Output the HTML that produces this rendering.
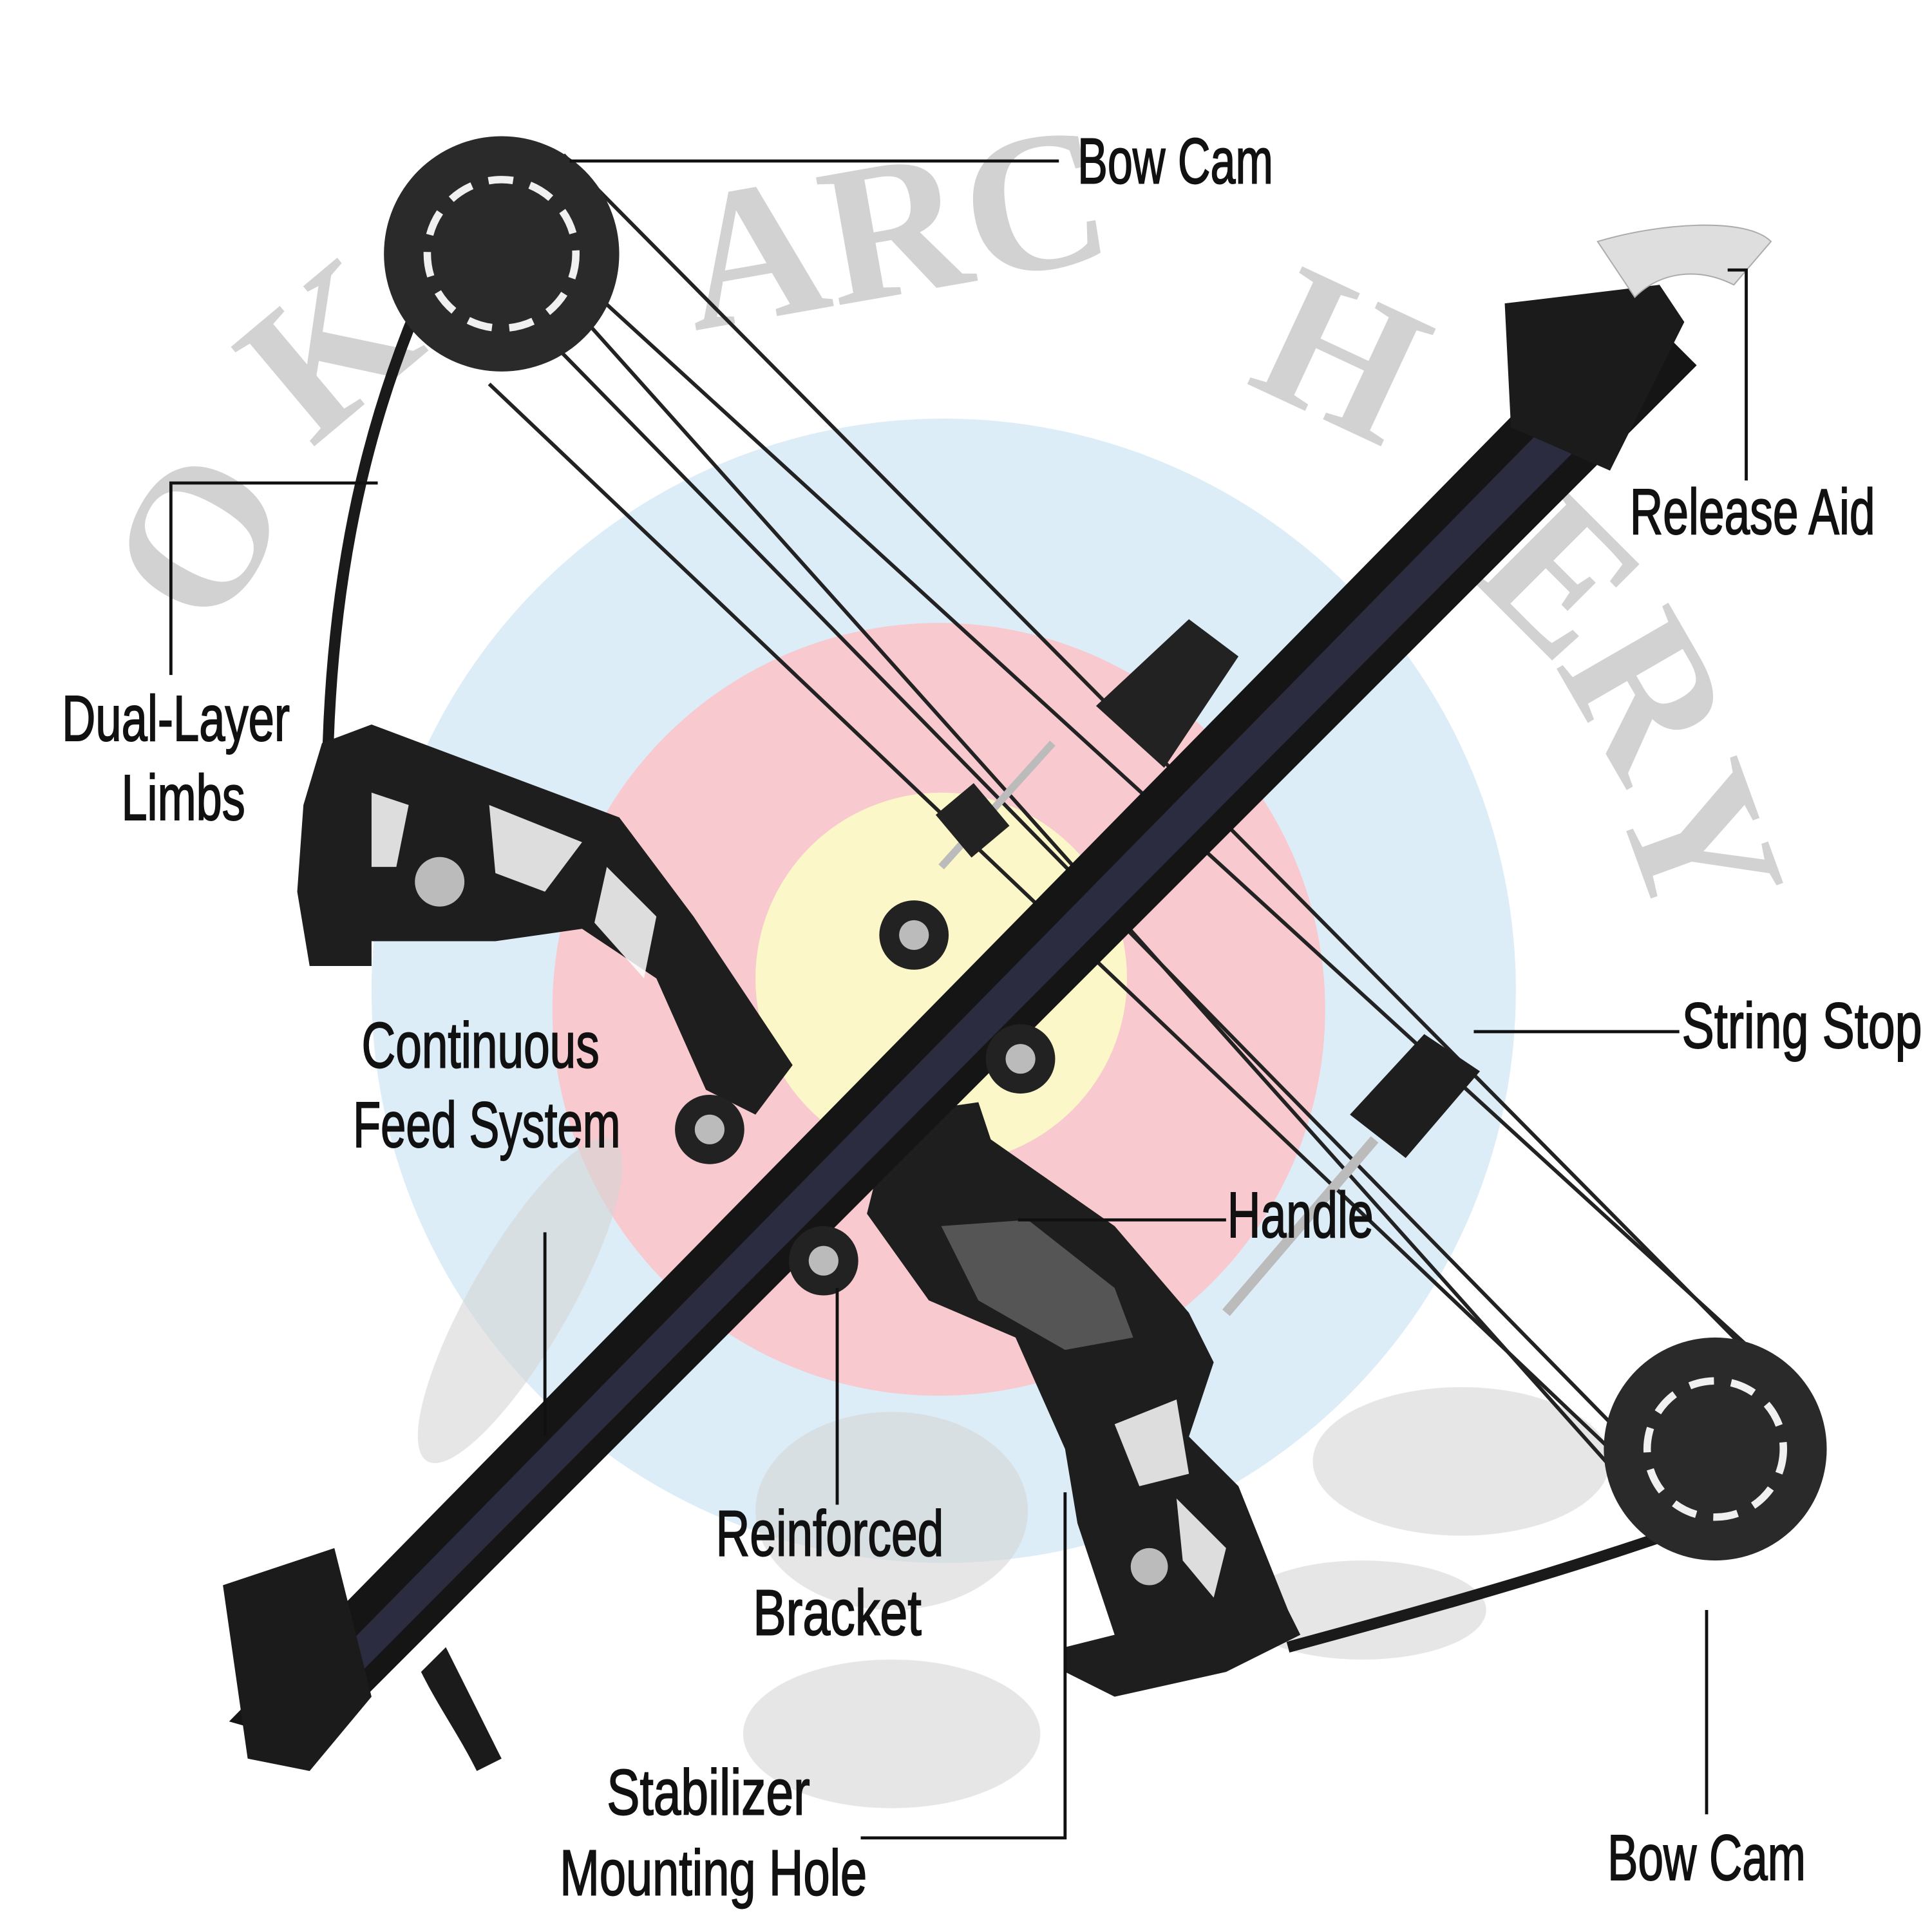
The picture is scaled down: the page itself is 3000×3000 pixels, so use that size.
<!DOCTYPE html>
<html><head><meta charset="utf-8"><style>
html,body{margin:0;padding:0;background:#fff;width:3000px;height:3000px;overflow:hidden}
svg{display:block}
text{font-family:"Liberation Sans Narrow","Liberation Sans",sans-serif;fill:#111}
</style></head><body>
<svg width="3000" height="3000" viewBox="0 0 1560 1560" xmlns="http://www.w3.org/2000/svg">
<rect width="1560" height="1560" fill="#fff"/>
<circle cx="762" cy="800" r="462" fill="#dcedf8"/>
<circle cx="758" cy="815" r="312" fill="#f8c9cf"/>
<circle cx="760" cy="790" r="150" fill="#fbf7c8"/>
<g font-weight="bold" font-size="160">
<text x="150" y="470" transform="rotate(-60 200 470)" style="fill:#d2d2d2;font-family:'Liberation Serif',serif">O</text>
<text x="240" y="330" transform="rotate(-40 290 330)" style="fill:#d2d2d2;font-family:'Liberation Serif',serif">K</text>
<text x="560" y="260" transform="rotate(-10 600 260)" style="fill:#d2d2d2;font-family:'Liberation Serif',serif">ARC</text>
<text x="1000" y="330" transform="rotate(25 1050 330)" style="fill:#d2d2d2;font-family:'Liberation Serif',serif">H</text>
<text x="1170" y="500" transform="rotate(45 1220 500)" style="fill:#d2d2d2;font-family:'Liberation Serif',serif">E</text>
<text x="1230" y="580" transform="rotate(60 1280 580)" style="fill:#d2d2d2;font-family:'Liberation Serif',serif">R</text>
<text x="1270" y="690" transform="rotate(70 1320 690)" style="fill:#d2d2d2;font-family:'Liberation Serif',serif">Y</text>
</g>
<g fill="#d6d6d6" opacity="0.6">
<ellipse cx="420" cy="1050" rx="150" ry="40" transform="rotate(-60 420 1050)"/>
<ellipse cx="1180" cy="1180" rx="120" ry="60"/>
<ellipse cx="720" cy="1220" rx="110" ry="80"/>
<ellipse cx="720" cy="1400" rx="120" ry="60"/>
<ellipse cx="1100" cy="1300" rx="100" ry="40"/>
</g>
<g stroke="#222" stroke-width="3" fill="none">
<line x1="385" y1="150" x2="1420" y2="1095"/>
<line x1="455" y1="125" x2="1415" y2="1095"/>
<line x1="420" y1="200" x2="1310" y2="1195"/>
<line x1="395" y1="310" x2="1300" y2="1170"/>
<line x1="400" y1="230" x2="1370" y2="1220"/>
</g>
<path d="M385 150 C300 300 270 450 265 600" stroke="#1a1a1a" stroke-width="9" fill="none"/>
<path d="M1440 1205 C1300 1260 1150 1300 1040 1330" stroke="#1a1a1a" stroke-width="9" fill="none"/>
<circle cx="405" cy="205" r="95" fill="#2a2a2a"/>
<circle cx="405" cy="205" r="60" fill="none" stroke="#f0f0f0" stroke-width="6" stroke-dasharray="20 14"/>
<circle cx="1385" cy="1170" r="90" fill="#2a2a2a"/>
<circle cx="1385" cy="1170" r="55" fill="none" stroke="#f0f0f0" stroke-width="6" stroke-dasharray="20 14"/>
<path d="M260 600 L300 585 L340 600 L500 660 L560 740 L600 800 L640 860 L610 900 L570 880 L530 790 L470 750 L400 760 L320 760 L300 760 L300 780 L250 780 L240 720 L245 650 Z" fill="#1e1e1e"/>
<g fill="#fff" opacity="0.85">
<polygon points="395,650 470,680 440,720 400,705"/>
<polygon points="490,700 530,740 520,790 480,745"/>
<polygon points="300,640 330,650 320,700 300,700" />
</g>
<circle cx="355" cy="712" r="20" fill="#bbb"/>
<path d="M720 900 L790 890 L800 920 L900 990 L960 1060 L980 1100 L960 1160 L1000 1200 L1040 1300 L1050 1320 L990 1350 L900 1370 L860 1350 L860 1330 L900 1320 L870 1230 L860 1170 L820 1080 L750 1050 L700 980 Z" fill="#1e1e1e"/>
<g fill="#fff" opacity="0.85">
<polygon points="900,1150 950,1130 960,1190 920,1200"/>
<polygon points="950,1210 990,1250 980,1290 955,1260"/>
</g>
<path d="M760 990 L830 985 L900 1040 L915 1080 L860 1090 L790 1050 Z" fill="#555"/>
<circle cx="928" cy="1265" r="15" fill="#bbb"/>
<polygon points="185,1390 255,1410 1370,295 1315,240" fill="#151515"/>
<polygon points="215,1395 240,1402 1345,290 1325,265" fill="#2c2c40"/>
<polygon points="1215,245 1340,230 1360,260 1300,380 1220,345" fill="#1b1b1b"/>
<path d="M1290 195 C1340 180 1410 175 1430 195 L1400 230 C1370 215 1340 220 1320 240 Z" fill="#dedede" stroke="#aaa"/>
<polygon points="180,1280 270,1250 300,1370 250,1430 200,1420" fill="#1b1b1b"/>
<path d="M360 1330 C380 1370 395 1400 405 1420 L385 1430 C370 1400 355 1380 340 1350 Z" fill="#1b1b1b"/>
<polygon points="885,570 960,500 1000,530 940,620" fill="#222"/>
<g fill="#222"><circle cx="738" cy="755" r="28"/><circle cx="824" cy="855" r="28"/><circle cx="573" cy="912" r="28"/><circle cx="665" cy="1018" r="28"/></g>
<g fill="#bbb"><circle cx="738" cy="755" r="12"/><circle cx="824" cy="855" r="12"/><circle cx="573" cy="912" r="12"/><circle cx="665" cy="1018" r="12"/></g>
<line x1="990" y1="1060" x2="1110" y2="920" stroke="#bbb" stroke-width="8"/>
<path d="M1090 900 L1150 835 L1195 865 L1135 935 Z" fill="#1e1e1e"/>
<line x1="760" y1="700" x2="850" y2="600" stroke="#bbb" stroke-width="6"/>
<rect x="765" y="640" width="40" height="45" fill="#222" transform="rotate(-40 785 662)"/>
<g stroke="#111" stroke-width="2.5" fill="none">
<polyline points="460,130 855,130"/>
<polyline points="1395,218 1410,218 1410,388"/>
<polyline points="138,545 138,390 305,390"/>
<polyline points="1190,833 1356,833"/>
<polyline points="440,995 440,1160"/>
<polyline points="822,985 990,985"/>
<polyline points="676,1040 676,1215"/>
<polyline points="695,1484 860,1484 860,1205"/>
<polyline points="1378,1300 1378,1465"/>
</g>
<g font-size="52" stroke="#111" stroke-width="1">
<text x="870" y="148" textLength="158" lengthAdjust="spacingAndGlyphs">Bow Cam</text>
<text x="1316" y="431" textLength="198" lengthAdjust="spacingAndGlyphs">Release Aid</text>
<text x="50" y="598" textLength="184" lengthAdjust="spacingAndGlyphs">Dual-Layer</text>
<text x="98" y="662" textLength="100" lengthAdjust="spacingAndGlyphs">Limbs</text>
<text x="1358" y="846" textLength="194" lengthAdjust="spacingAndGlyphs">String Stop</text>
<text x="292" y="862" textLength="192" lengthAdjust="spacingAndGlyphs">Continuous</text>
<text x="285" y="926" textLength="216" lengthAdjust="spacingAndGlyphs">Feed System</text>
<text x="991" y="999" textLength="118" lengthAdjust="spacingAndGlyphs">Handle</text>
<text x="578" y="1256" textLength="184" lengthAdjust="spacingAndGlyphs">Reinforced</text>
<text x="608" y="1320" textLength="136" lengthAdjust="spacingAndGlyphs">Bracket</text>
<text x="490" y="1465" textLength="164" lengthAdjust="spacingAndGlyphs">Stabilizer</text>
<text x="452" y="1530" textLength="248" lengthAdjust="spacingAndGlyphs">Mounting Hole</text>
<text x="1298" y="1518" textLength="160" lengthAdjust="spacingAndGlyphs">Bow Cam</text>
</g>
</svg>
</body></html>
